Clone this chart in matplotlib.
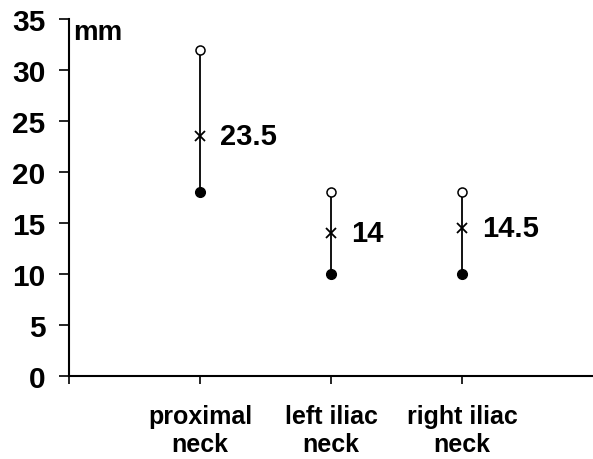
import matplotlib
matplotlib.use("Agg")
import matplotlib.pyplot as plt

categories = ["proximal\nneck", "left iliac\nneck", "right iliac\nneck"]
max_vals = [32, 18, 18]
mean_vals = [23.5, 14, 14.5]
min_vals = [18, 10, 10]
mean_labels = ["23.5", "14", "14.5"]
yticks = [0, 5, 10, 15, 20, 25, 30, 35]

plt.rcParams['font.family'] = ['Liberation Sans', 'DejaVu Sans']
plt.rcParams['font.weight'] = 'bold'

fig = plt.figure(figsize=(5.93, 4.60), dpi=100)
ax = fig.add_axes([0.1164, 0.1804, 0.8836, 0.7761])

xs = [1, 2, 3]
for x, hi, mu, lo, lab in zip(xs, max_vals, mean_vals, min_vals, mean_labels):
    ax.plot([x, x], [lo, hi], color='black', lw=1.3, zorder=1)
    ax.plot([x], [hi], 'o', mfc='white', mec='black', ms=6.5, mew=1.1, zorder=3)
    ax.plot([x], [lo], 'o', mfc='black', mec='black', ms=7, zorder=3)
    ax.plot([x], [mu], 'x', color='black', ms=6.5, mew=1.3, zorder=3)
    ax.text(x + 0.15, mu, lab, fontsize=21, fontweight='bold', va='center', ha='left')

ax.set_xlim(0, 4)
ax.set_ylim(0, 35)
ax.set_yticks(yticks)
ax.set_xticks([0] + xs)
ax.set_xticklabels([""] + categories, fontsize=18, fontweight='bold', linespacing=1.2)
ax.set_yticklabels([str(v) for v in yticks], fontsize=21.5, fontweight='bold')
ax.tick_params(axis='y', direction='out', length=7, width=1.2, pad=10)
ax.tick_params(axis='x', direction='out', length=6, width=1.2, pad=14)
for s in ['top', 'right']:
    ax.spines[s].set_visible(False)
for s in ['left', 'bottom']:
    ax.spines[s].set_linewidth(1.5)

ax.text(0.03, 33.7, "mm", fontsize=20, fontweight='bold', va='center', ha='left')

fig.savefig("out.png", dpi=100)
